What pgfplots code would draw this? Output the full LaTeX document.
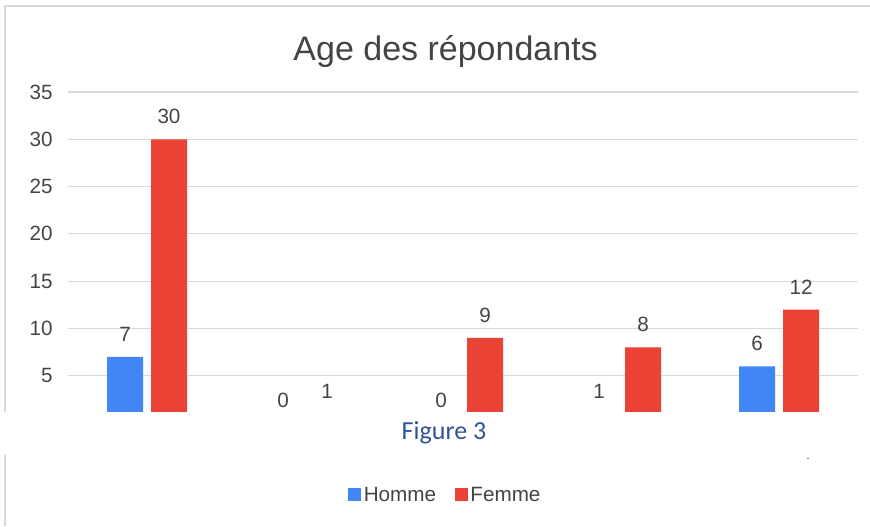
\documentclass[border=0pt]{standalone}
\usepackage{fontspec}
\setmainfont{Liberation Sans}
\newfontfamily\calibri{Carlito}
\usepackage{pgfplots}
\pgfplotsset{compat=1.18}

\definecolor{hommeblue}{HTML}{4285F4}
\definecolor{femmered}{HTML}{EA4335}
\definecolor{gridgray}{HTML}{D9D9D9}
\definecolor{txtgray}{HTML}{444444}
\definecolor{capblue}{HTML}{2F5496}

\begin{document}
\begin{tikzpicture}
% page = 870 x 526 px at 0.75pt per px
\path[use as bounding box] (0,0) rectangle (652.5pt,394.5pt);
\draw[gridgray, line width=0.9pt] (3.75pt,0) -- (3.75pt,390pt) -- (652.5pt,390pt);

\begin{axis}[
  at={(51pt,77.25pt)}, anchor=south west,
  scale only axis,
  width=592.5pt, height=248.25pt,
  ybar=6pt, bar width=27pt,
  xmin=-0.5, xmax=4.5,
  ymin=0, ymax=35,
  xtick=\empty,
  ytick={5,10,...,35},
  major tick length=0pt,
  axis line style={draw=none},
  ymajorgrids,
  grid style={gridgray, line width=0.9pt},
  /pgf/number format/assume math mode=true,
  yticklabel style={font=\fontsize{15.5}{18}\selectfont, text=txtgray, xshift=-8pt},
  title={Age des répondants},
  title style={font=\fontsize{25.5}{30}\selectfont, text=txtgray,
    at={(axis description cs:0.478,1)}, anchor=base, yshift=18pt},
  nodes near coords,
  every node near coord/.append style={font=\fontsize{15.5}{18}\selectfont, text=txtgray, yshift=8pt},
  legend columns=2,
  legend style={draw=none, font=\fontsize{15.5}{18}\selectfont, text=txtgray,
    at={(axis description cs:0.478,-0.2175)}, anchor=center,
    /tikz/every even column/.append style={column sep=12pt}},
  legend image code/.code={\fill[#1] (1pt,-4.875pt) rectangle (10.75pt,4.875pt);},
]
\addplot[fill=hommeblue, draw=none] coordinates {(0,7) (1,0) (2,0) (3,1) (4,6)};
\addplot[fill=femmered, draw=none] coordinates {(0,30) (1,1) (2,9) (3,8) (4,12)};
\legend{Homme, Femme}
\end{axis}

% caption band laid over the bottom of the chart
\fill[white] (-1pt,53.25pt) rectangle (653.5pt,85.5pt);
\node[anchor=base, font=\calibri\fontsize{19.5}{23}\selectfont, text=capblue, inner sep=0pt] at (333pt,65.25pt) {Figure 3};
\fill[gray] (605.6pt,50pt) rectangle (606.4pt,50.8pt);
\end{tikzpicture}
\end{document}
